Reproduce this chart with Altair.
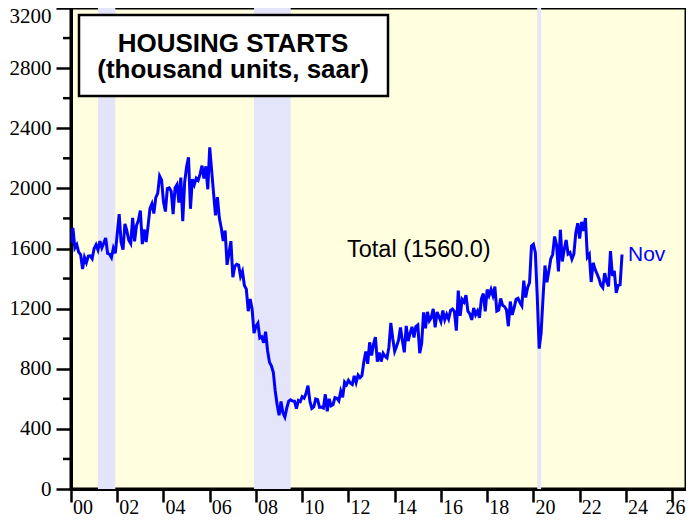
import altair as alt
import pandas as pd

# ---------------- data (thousand units, saar), Jan..Dec ----------------
y2000 = [1636, 1737, 1604, 1626, 1575, 1559, 1463, 1541, 1507, 1549, 1551, 1532]
y2001 = [1600, 1625, 1590, 1649, 1605, 1636, 1670, 1567, 1562, 1540, 1602, 1568]
y2002 = [1698, 1829, 1642, 1592, 1764, 1717, 1655, 1633, 1804, 1648, 1753, 1788]
y2003 = [1853, 1629, 1726, 1643, 1751, 1867, 1897, 1833, 1939, 1967, 2083, 2057]
y2004 = [1911, 1846, 1998, 2003, 1981, 1828, 2002, 2024, 1905, 2072, 1782, 2042]
y2005 = [2144, 2207, 1864, 2061, 2025, 2068, 2054, 2095, 2151, 2065, 2147, 1994]
y2006 = [2273, 2119, 1969, 1821, 1942, 1802, 1737, 1650, 1720, 1491, 1570, 1649]
y2007 = [1409, 1480, 1495, 1490, 1415, 1448, 1354, 1330, 1183, 1264, 1197, 1037]
y2008 = [1084, 1103, 1005, 1013, 973, 1046, 923, 844, 820, 777, 652, 560]
y2009 = [490, 582, 505, 478, 540, 585, 594, 586, 585, 534, 588, 581]
y2010 = [614, 604, 636, 687, 583, 536, 546, 599, 594, 543, 545, 539]
y2011 = [630, 517, 600, 554, 561, 608, 604, 586, 650, 610, 711, 694]
y2012 = [723, 704, 695, 753, 708, 757, 740, 754, 847, 915, 833, 976]
y2013 = [888, 962, 1010, 847, 907, 848, 903, 883, 872, 942, 1105, 1001]
y2014 = [916, 950, 990, 1074, 987, 909, 1085, 984, 1035, 1079, 1008, 1080]
y2015 = [1091, 904, 968, 1175, 1069, 1178, 1119, 1140, 1198, 1076, 1178, 1145]
y2016 = [1113, 1188, 1126, 1162, 1131, 1188, 1197, 1180, 1054, 1320, 1152, 1262]
y2017 = [1245, 1289, 1183, 1165, 1125, 1205, 1159, 1184, 1138, 1265, 1300, 1182]
y2018 = [1327, 1288, 1327, 1286, 1346, 1184, 1191, 1268, 1222, 1214, 1193, 1083]
y2019 = [1247, 1159, 1205, 1262, 1269, 1240, 1218, 1386, 1274, 1340, 1373, 1617]
y2020 = [1628, 1574, 1277, 934, 1038, 1273, 1487, 1376, 1448, 1530, 1560, 1680]
y2021 = [1625, 1447, 1725, 1514, 1594, 1657, 1563, 1573, 1530, 1563, 1703, 1768]
y2022 = [1666, 1777, 1716, 1803, 1543, 1561, 1377, 1505, 1463, 1432, 1401, 1357]
y2023 = [1340, 1436, 1380, 1348, 1583, 1418, 1451, 1305, 1356, 1359, 1560]

years = list(range(2000, 2024))
series = [y2000, y2001, y2002, y2003, y2004, y2005, y2006, y2007, y2008, y2009,
          y2010, y2011, y2012, y2013, y2014, y2015, y2016, y2017, y2018, y2019,
          y2020, y2021, y2022, y2023]

# recessions (decimal years)
rec_start = [2001.167, 2007.917, 2020.167]
rec_end = [2001.917, 2009.5, 2020.333]

year_ticks = list(range(2000, 2027))
y_major = [0, 400, 800, 1200, 1600, 2000, 2400, 2800, 3200]
y_minor = [200, 600, 1000, 1400, 1800, 2200, 2600, 3000]

title_line1 = "HOUSING STARTS"
title_line2 = "(thousand units, saar)"
last_label = "Nov"

# ---------------- tables ----------------
rows = []
for yr, vals in zip(years, series):
    for m, v in enumerate(vals):
        rows.append({"t": yr + m / 12.0, "v": v})
df = pd.DataFrame(rows)
last = df.iloc[[-1]].copy()
last["lab"] = last_label
rec_df = pd.DataFrame({"t": rec_start, "t2": rec_end})
minor_df = pd.DataFrame({"v": y_minor})
one = pd.DataFrame({"a": [0]})

W, H = 615, 481
YEAR_PX = 23.12
xs = alt.Scale(domain=[2000, 2000 + W / YEAR_PX], nice=False, zero=False)
ys = alt.Scale(domain=[0, 3200], nice=False)

SERIF = "Liberation Serif"
SANS = "Liberation Sans"

x_axis = alt.Axis(values=year_ticks, format="d",
                  labelExpr="datum.value % 2 == 0 ? slice(datum.label, 2) : ''",
                  labelOffset={"condition": {"test": "datum.value == 2026", "value": 3},
                               "value": YEAR_PX / 2},
                  labelFlush=False, labelOverlap=False,
                  tickSize=13, tickWidth=2.5, domainWidth=3, domainColor="black",
                  tickColor="black", labelFont=SERIF, labelFontSize=20,
                  labelColor="black", labelPadding=-5, title=None, grid=False)
y_axis = alt.Axis(values=y_major, format="d", tickSize=15, tickWidth=2.5,
                  domainWidth=3, domainColor="black", tickColor="black",
                  labelFont=SERIF, labelFontSize=21, labelColor="black",
                  labelPadding=5, labelFlush=False, labelOverlap=False,
                  labelOffset={"condition": {"test": "datum.value == 3200", "value": 8}, "value": 0},
                  title=None, grid=False)

bands = alt.Chart(rec_df).mark_rect(color="#E4E4FA", opacity=1).encode(
    x=alt.X("t:Q", scale=xs),
    x2="t2:Q",
    y=alt.value(0),
    y2=alt.value(H),
)

line = alt.Chart(df).mark_line(color="#0000FF", strokeWidth=3, clip=True).encode(
    x=alt.X("t:Q", scale=xs, axis=x_axis),
    y=alt.Y("v:Q", scale=ys, axis=y_axis),
)

minor = alt.Chart(minor_df).mark_rule(color="black", strokeWidth=2.5).encode(
    y=alt.Y("v:Q", scale=ys),
    x=alt.value(-8),
    x2=alt.value(0),
)

box = alt.Chart(one).mark_rect(fill="white", stroke="black", strokeWidth=2.5).encode(
    x=alt.value(8), x2=alt.value(317), y=alt.value(7), y2=alt.value(88)
)

title1 = alt.Chart(one).mark_text(
    text=title_line1, font=SANS, fontSize=26, fontWeight="bold", color="black",
    align="center", baseline="alphabetic"
).encode(x=alt.value(162), y=alt.value(44))

title2 = alt.Chart(one).mark_text(
    text=title_line2, font=SANS, fontSize=26, fontWeight="bold", color="black",
    align="center", baseline="alphabetic"
).encode(x=alt.value(162), y=alt.value(70))

total = alt.Chart(one).mark_text(
    text=f"Total ({y2023[-1]:.1f})", font=SANS, fontSize=23.5, color="black",
    align="left", baseline="alphabetic"
).encode(x=alt.value(276), y=alt.value(249))

nov = alt.Chart(last).mark_text(
    font=SANS, fontSize=21, color="#0000FF", align="left", baseline="middle", dx=6, dy=0
).encode(x=alt.X("t:Q", scale=xs), y=alt.Y("v:Q", scale=ys), text="lab:N")

chart = alt.layer(bands, line, minor, box, title1, title2, total, nov).properties(
    width=W, height=H,
    padding={"left": 63, "top": 0, "right": 0, "bottom": 27},
    autosize=alt.AutoSizeParams(type="none"),
).configure_view(fill="#FFFFE0", stroke="black", strokeWidth=3)

chart.save("out.html", embed_options={"renderer": "svg", "actions": False})
